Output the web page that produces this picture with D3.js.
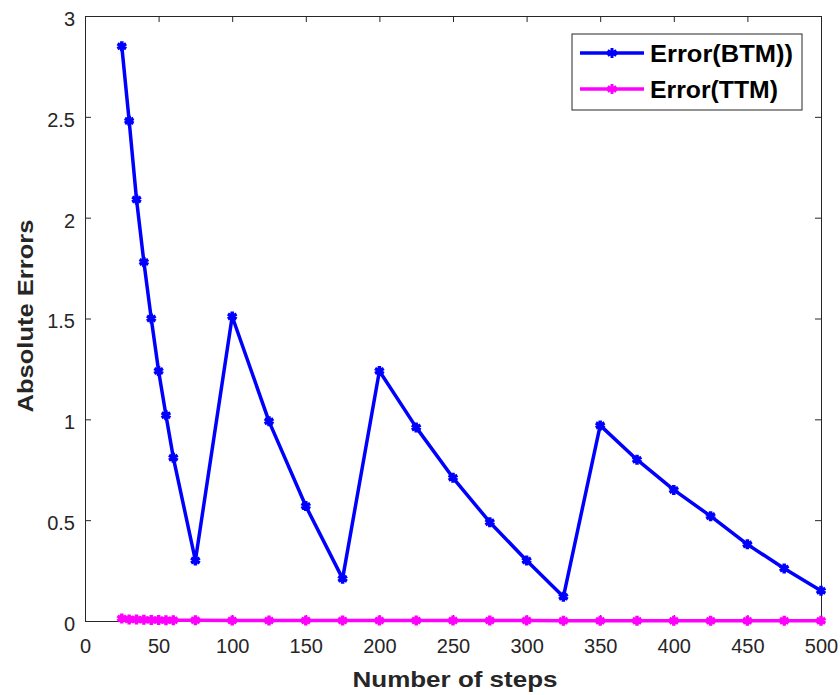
<!DOCTYPE html>
<html lang="en">
<head>
    <meta charset="UTF-8" />
    <title>Absolute Errors</title>
    <script src="https://d3js.org/d3.v7.min.js"></script>
    <style>
        body { margin: 0; background: #fff; }
        text { font-family: Arial, "Liberation Sans", sans-serif; }
    </style>
</head>
<body>
    <div id="container"></div>
    <script>
        const steps = [25, 30, 35, 40, 45, 50, 55, 60, 75, 100, 125, 150, 175, 200, 225, 250, 275, 300, 325, 350, 375, 400, 425, 450, 475, 500]
        const errBTM = [2.85, 2.48, 2.09, 1.78, 1.50, 1.24, 1.02, 0.81, 0.30, 1.51, 0.99, 0.57, 0.21, 1.24, 0.96, 0.71, 0.49, 0.30, 0.12, 0.97, 0.80, 0.65, 0.52, 0.38, 0.26, 0.15]
        const errTTM = [0.012, 0.008, 0.007, 0.006, 0.005, 0.005, 0.004, 0.004, 0.004, 0.003, 0.003, 0.003, 0.002, 0.002, 0.002, 0.002, 0.002, 0.002, 0.001, 0.001, 0.001, 0.001, 0.001, 0.001, 0.001, 0.001]
        const xTicks = [0, 50, 100, 150, 200, 250, 300, 350, 400, 450, 500]
        const yTicks = [0, 0.5, 1, 1.5, 2, 2.5, 3]

        const width = 840, height = 695
        const margin = { top: 16, right: 19, bottom: 74, left: 85 }

        const svg = d3.select("#container").append("svg")
            .attr("width", width)
            .attr("height", height)

        const x = d3.scaleLinear().domain([0, 500]).range([margin.left, width - margin.right])
        const y = d3.scaleLinear().domain([0, 3]).range([height - margin.bottom, margin.top])

        const axisColor = "#262626"
        const fmt = d => d3.format("")(d)

        // box axes
        const gx = svg.append("g")
            .attr("transform", `translate(0,${height - margin.bottom})`)
            .call(d3.axisBottom(x).tickValues(xTicks).tickFormat(fmt).tickSizeInner(-6).tickSizeOuter(0).tickPadding(18))
        svg.append("g")
            .attr("transform", `translate(0,${margin.top})`)
            .call(d3.axisTop(x).tickValues(xTicks).tickFormat("").tickSizeInner(-6).tickSizeOuter(0))
        const gy = svg.append("g")
            .attr("transform", `translate(${margin.left},0)`)
            .call(d3.axisLeft(y).tickValues(yTicks).tickFormat(fmt).tickSizeInner(-6).tickSizeOuter(0).tickPadding(10))
        svg.append("g")
            .attr("transform", `translate(${width - margin.right},0)`)
            .call(d3.axisRight(y).tickValues(yTicks).tickFormat("").tickSizeInner(-6).tickSizeOuter(0))

        svg.selectAll(".domain, .tick line").attr("stroke", axisColor)
        svg.selectAll(".tick text").attr("fill", axisColor).style("font-size", "20px")
        gy.selectAll(".tick text").attr("dy", "0.47em")

        const series = [
            { name: "Error(BTM))", values: errBTM, color: "#0000ff" },
            { name: "Error(TTM)", values: errTTM, color: "#ff00ff" }
        ]

        const line = d3.line()
            .x((d, i) => x(steps[i]))
            .y(d => y(d))

        const star = d3.symbol().type(d3.symbolAsterisk).size(70)

        // draw magenta first, then blue on top
        series.slice().reverse().forEach(s => {
            svg.append("path")
                .datum(s.values)
                .attr("fill", "none")
                .attr("stroke", s.color)
                .attr("stroke-width", 3.5)
                .attr("stroke-linejoin", "round")
                .attr("d", line)

            svg.append("g").selectAll("path")
                .data(s.values)
                .join("path")
                .attr("transform", (d, i) => `translate(${x(steps[i])},${y(d)})`)
                .attr("d", star)
                .attr("fill", "none")
                .attr("stroke", s.color)
                .attr("stroke-width", 3.5)
        })

        // axis labels
        svg.append("text")
            .attr("x", (margin.left + width - margin.right) / 2 + 2)
            .attr("y", 687)
            .attr("text-anchor", "middle")
            .attr("font-weight", "bold")
            .attr("font-size", 22)
            .attr("textLength", 205)
            .attr("lengthAdjust", "spacingAndGlyphs")
            .attr("fill", axisColor)
            .text("Number of steps")

        svg.append("text")
            .attr("transform", `translate(33,316) rotate(-90)`)
            .attr("text-anchor", "middle")
            .attr("font-weight", "bold")
            .attr("font-size", 22)
            .attr("textLength", 193)
            .attr("lengthAdjust", "spacingAndGlyphs")
            .attr("fill", axisColor)
            .text("Absolute Errors")

        // legend
        const legend = svg.append("g").attr("transform", "translate(572,34)")
        legend.append("rect")
            .attr("width", 230)
            .attr("height", 76)
            .attr("fill", "#fff")
            .attr("stroke", axisColor)
            .attr("stroke-width", 1)

        series.forEach((s, i) => {
            const ly = 19 + i * 36
            legend.append("line")
                .attr("x1", 8).attr("x2", 72)
                .attr("y1", ly).attr("y2", ly)
                .attr("stroke", s.color)
                .attr("stroke-width", 3.5)
            legend.append("path")
                .attr("transform", `translate(40,${ly})`)
                .attr("d", star)
                .attr("fill", "none")
                .attr("stroke", s.color)
                .attr("stroke-width", 3)
            legend.append("text")
                .attr("x", 78)
                .attr("y", ly + 9)
                .attr("font-weight", "bold")
                .attr("font-size", 24)
                .attr("textLength", s.name === "Error(BTM))" ? 143 : 128)
                .attr("lengthAdjust", "spacingAndGlyphs")
                .attr("fill", "#000")
                .text(s.name)
        })
    </script>
</body>
</html>
